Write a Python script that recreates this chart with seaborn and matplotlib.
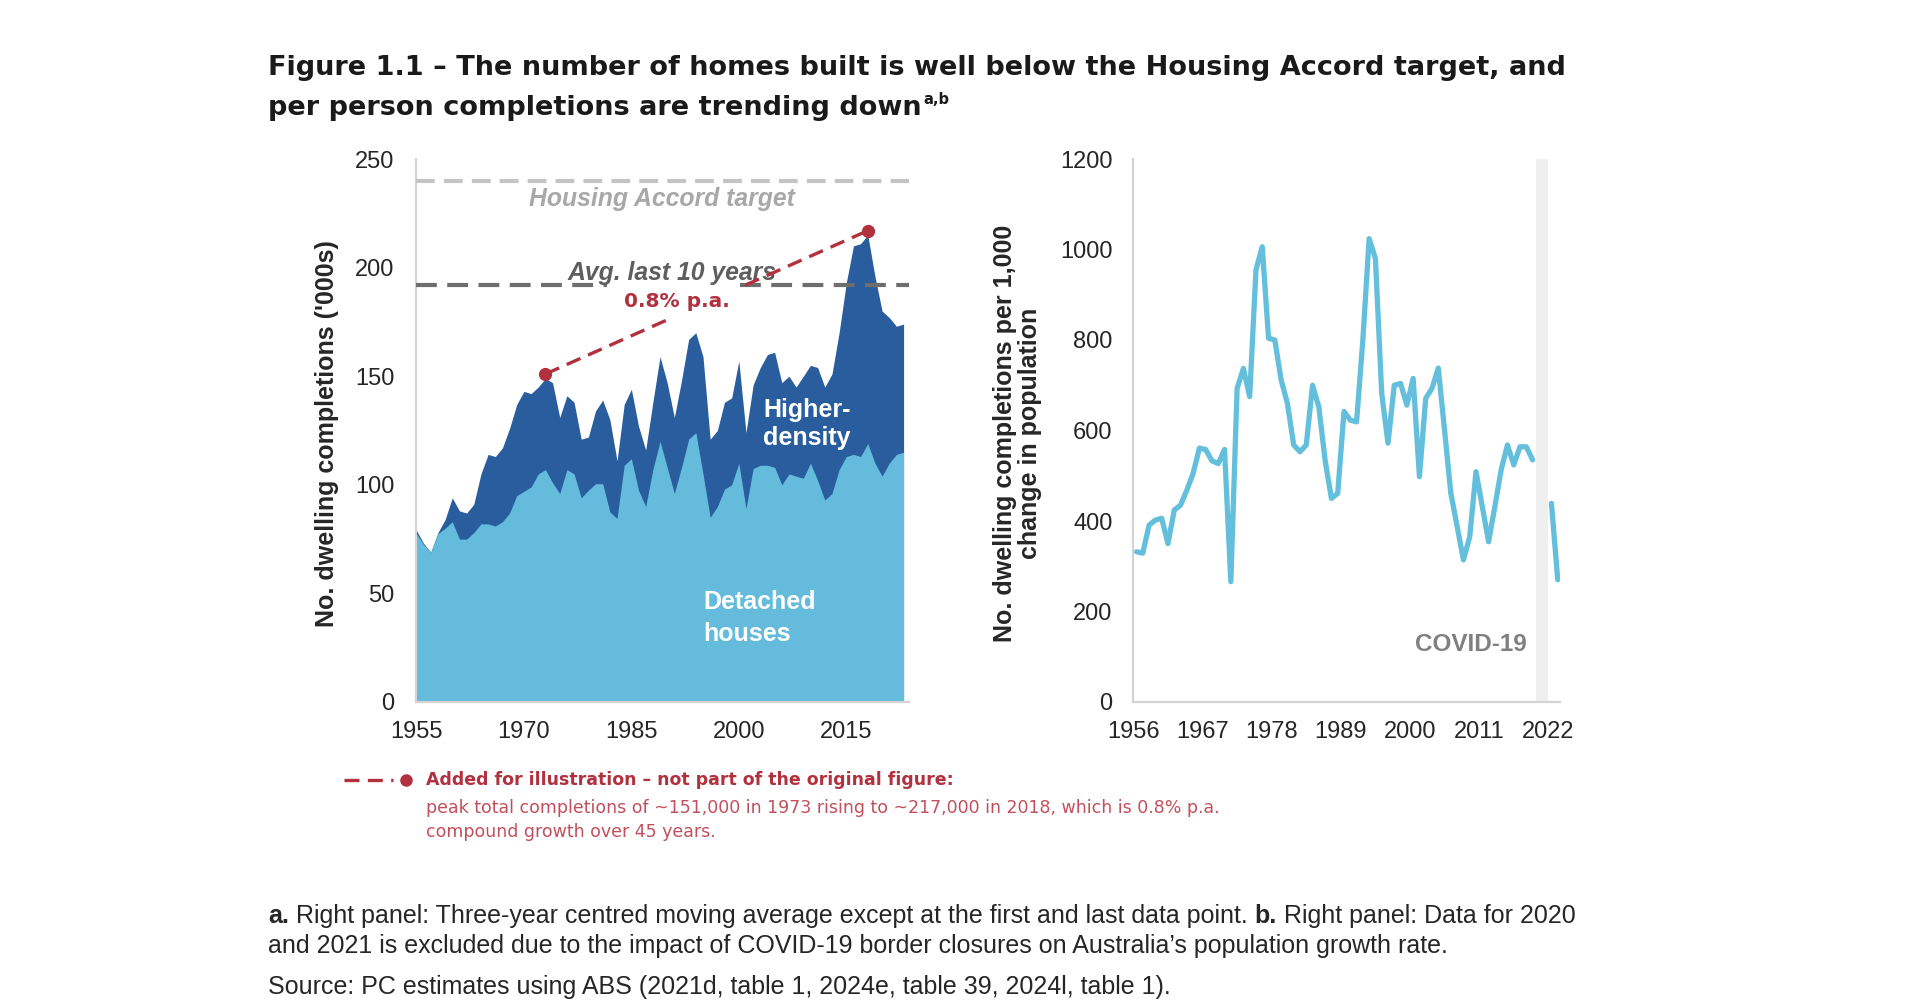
import numpy as np
import pandas as pd
import seaborn as sns
import matplotlib.pyplot as plt

# Left panel: dwelling completions ('000s), 1955-2023
years = list(range(1955, 2024))
total = [79, 73, 69, 78, 84, 94, 88, 87, 91, 105,
         114, 113, 117, 126, 137, 143, 142, 145, 149, 147,
         131, 141, 138, 121, 122, 134, 139, 130, 111, 137,
         144, 127, 116, 138, 159, 147, 131, 148, 167, 170,
         159, 121, 125, 138, 140, 157, 124, 146, 154, 160,
         161, 147, 150, 145, 150, 155, 154, 145, 151, 170,
         193, 210, 211, 215, 196, 180, 177, 173, 174]
detached = [77.5, 72.5, 69, 77.5, 80, 83, 75, 75, 78, 82,
            82, 81, 83, 87, 95, 97, 99, 105, 107, 101,
            96, 107, 105, 94, 97.5, 100.5, 100.5, 87.5, 84.5, 109,
            112, 97.5, 90, 107, 120, 108, 96, 108, 121, 124,
            105, 85, 90, 98, 100, 110, 89, 107.5, 109, 109,
            108, 100, 105, 104, 103, 110, 102, 93, 96, 107,
            113, 114, 113, 119, 110, 104, 110, 114, 115]
accord_target = 240
avg_last_10 = 192
peak_years = [1973, 2018]
peak_totals = [151, 217]
left_ticks = [1955, 1970, 1985, 2000, 2015]

# Right panel: completions per 1,000 change in population (2020, 2021 excluded)
pc_years = list(range(1956, 2024))
per_1000 = [332, 329, 391, 402, 406, 350, 424, 435, 468, 505,
            561, 558, 533, 527, 558, 266, 693, 737, 675, 955,
            1006, 804, 800, 712, 660, 568, 553, 568, 700, 652,
            534, 450, 461, 642, 623, 619, 800, 1024, 980, 682,
            572, 700, 704, 656, 715, 498, 671, 693, 738, 600,
            461, 388, 314, 365, 509, 432, 354, 432, 513, 568,
            524, 564, 564, 535, np.nan, np.nan, 439, 270]
right_ticks = [1956, 1967, 1978, 1989, 2000, 2011, 2022]
covid_years = (2020, 2022)

LIGHT = '#64bbdb'
DARK = '#295d9e'
RED = '#b2313f'
RED_SOFT = '#c24f5d'
SPINE = '#d4d4d4'
INK = '#262626'

sns.set_style('white')
plt.rcParams['font.family'] = ['Liberation Sans', 'DejaVu Sans']
plt.rcParams['text.color'] = '#1a1a1a'
plt.rcParams['xtick.color'] = SPINE
plt.rcParams['ytick.color'] = SPINE
plt.rcParams['xtick.labelcolor'] = INK
plt.rcParams['ytick.labelcolor'] = INK

fig = plt.figure(figsize=(19.2, 10), dpi=100)
bg = fig.add_axes([0, 0, 1, 1])
bg.axis('off')
bg.set_xlim(0, 1)
bg.set_ylim(0, 1)

ax1 = fig.add_axes([0.2169, 0.298, 0.2567, 0.543])
ax2 = fig.add_axes([0.5903, 0.298, 0.2222, 0.543])

# ---- left panel: stacked areas
df = pd.DataFrame({'year': years, 'total': total, 'detached': detached})
ax1.fill_between(df['year'], 0, df['total'], color=DARK, lw=0, zorder=1)
ax1.fill_between(df['year'], 0, df['detached'], color=LIGHT, lw=0, zorder=2)

ax1.axhline(accord_target, color='#c4c4c4', lw=3, dashes=(4.5, 2.2), zorder=3)
ax1.hlines([avg_last_10, avg_last_10], [1955, 2000.2], [1981.6, 2023.8],
           color='#6e6e6e', lw=3, linestyles=[(0, (5, 2.5))], zorder=3)

# added illustration: compound growth between the two peaks
for t0, t1 in [(0, 0.387), (0.62, 1)]:
    t = np.array([t0, t1])
    xs = peak_years[0] + t * (peak_years[1] - peak_years[0])
    ys = peak_totals[0] + t * (peak_totals[1] - peak_totals[0])
    ax1.plot(xs, ys, color=RED, lw=2.4, dashes=(4.5, 2.5), zorder=4)
ax1.plot(peak_years, peak_totals, 'o', color=RED, ms=8.5, zorder=5)

ax1.text(1989.3, 228.3, 'Housing Accord target', ha='center', va='baseline',
         style='italic', weight='bold', color='#a8a8a8', size=17.8)
ax1.text(1990.7, 194.2, 'Avg. last 10 years', ha='center', va='baseline',
         style='italic', weight='bold', color='#5e5e5e', size=17.8)
ax1.text(1991.3, 181.8, '0.8% p.a.', ha='center', va='baseline',
         family='DejaVu Sans', weight='bold', color=RED, size=14.5)
ax1.text(2003.4, 131.2, 'Higher-', ha='left', va='baseline', color='white',
         weight='bold', size=18)
ax1.text(2003.4, 118.2, 'density', ha='left', va='baseline', color='white',
         weight='bold', size=18)
ax1.text(1995, 42.9, 'Detached', ha='left', va='baseline', color='white',
         weight='bold', size=18)
ax1.text(1995, 27.9, 'houses', ha='left', va='baseline', color='white',
         weight='bold', size=18)

ax1.set_xlim(1955, 2023.8)
ax1.set_ylim(0, 250)
ax1.set_xticks(left_ticks)
ax1.set_yticks(range(0, 251, 50))
ax1.tick_params(axis='x', direction='in', length=5, width=1.5, pad=14, labelsize=17)
ax1.tick_params(axis='y', direction='out', length=5, width=1.5, pad=11, labelsize=17)
ax1.set_ylabel("No. dwelling completions ('000s)", weight='bold', size=18)
ax1.yaxis.label.set_va('center')
ax1.yaxis.set_label_coords(-0.181, 0.495)

# ---- right panel: per-person completions
pc = pd.DataFrame({'year': pc_years, 'value': per_1000})
pc['segment'] = pc['value'].isna().cumsum()
pc = pc.dropna()
pc['pos'] = pc['year'] + 0.5

ax2.axvspan(*covid_years, color='#efefef', lw=0, zorder=0)
sns.lineplot(data=pc, x='pos', y='value', units='segment', estimator=None,
             color='#64bfdd', lw=3.8, ax=ax2, legend=False)
ax2.text(2018.6, 113, 'COVID-19', ha='right', va='baseline', color='#808080',
         weight='bold', size=17.5)

ax2.set_xlim(1956, 2023.86)
ax2.set_ylim(0, 1200)
ax2.set_xticks(right_ticks)
ax2.set_yticks(range(0, 1201, 200))
ax2.tick_params(axis='x', direction='out', length=5, width=1.5, pad=9, labelsize=17)
ax2.tick_params(axis='y', direction='out', length=5, width=1.5, pad=10, labelsize=17)
ax2.set_xlabel('')
ax2.set_ylabel('No. dwelling completions per 1,000\nchange in population',
               weight='bold', size=18, linespacing=1.05)
ax2.yaxis.label.set_va('center')
ax2.yaxis.set_label_coords(-0.272, 0.494)

for ax in (ax1, ax2):
    sns.despine(ax=ax)
    for side in ('left', 'bottom'):
        ax.spines[side].set_color(SPINE)
        ax.spines[side].set_linewidth(1.6)

# ---- title
title_font = dict(family='DejaVu Sans', weight='bold', size=19.5, va='baseline', ha='left')
bg.text(268 / 1920, 0.925,
        'Figure 1.1 \u2013 The number of homes built is well below the Housing Accord target, and',
        **title_font)
t2 = bg.text(268 / 1920, 0.885, 'per person completions are trending down', **title_font)
bg.annotate('a,b', xy=(1, 1), xycoords=t2, xytext=(1, -3),
            textcoords='offset points', ha='left', va='center',
            family='DejaVu Sans', weight='bold', size=10.5)

# ---- added illustration key
bg.plot([344 / 1920, 393 / 1920], [0.22, 0.22], color=RED, lw=2.4, dashes=(4.5, 2.5))
bg.plot([406 / 1920], [0.22], 'o', color=RED, ms=8)
bg.text(426 / 1920, 0.22,
        'Added for illustration \u2013 not part of the original figure:',
        family='DejaVu Sans', weight='bold', color=RED, size=12.5, va='center')
bg.text(426 / 1920, 0.192,
        'peak total completions of ~151,000 in 1973 rising to ~217,000 in 2018, which is 0.8% p.a.',
        family='DejaVu Sans', color=RED_SOFT, size=12.5, va='center')
bg.text(426 / 1920, 0.168, 'compound growth over 45 years.',
        family='DejaVu Sans', color=RED_SOFT, size=12.5, va='center')

# ---- notes
fs = 18
f1 = bg.text(268 / 1920, 0.077, 'a.', weight='bold', size=fs, va='baseline', color=INK)
f2 = bg.annotate('Right panel: Three-year centred moving average except at the first and last data point.',
                 xy=(1, 0), xycoords=f1, xytext=(5, 0), textcoords='offset points',
                 va='bottom', ha='left', size=fs, color=INK)
f3 = bg.annotate('b.', xy=(1, 0), xycoords=f2, xytext=(5, 0), textcoords='offset points',
                 va='bottom', ha='left', size=fs, weight='bold', color=INK)
bg.annotate('Right panel: Data for 2020', xy=(1, 0), xycoords=f3, xytext=(5, 0),
            textcoords='offset points', va='bottom', ha='left', size=fs, color=INK)
bg.text(268 / 1920, 0.047,
        'and 2021 is excluded due to the impact of COVID-19 border closures on Australia\u2019s population growth rate.',
        size=fs, va='baseline', color=INK)
bg.text(268 / 1920, 0.006,
        'Source: PC estimates using ABS (2021d, table 1, 2024e, table 39, 2024l, table 1).',
        size=fs, va='baseline', color=INK)

fig.savefig('out.png', dpi=100, facecolor='white')
